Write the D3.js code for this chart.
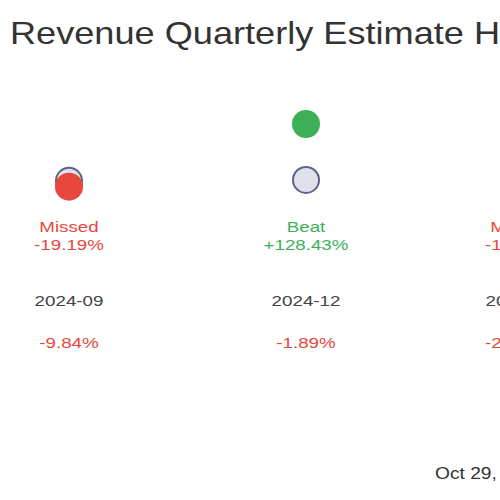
<!DOCTYPE html>
<html><head><meta charset="utf-8">
<script src="https://cdn.jsdelivr.net/npm/d3@7"></script>
<style>body{margin:0;overflow:hidden;background:#fff}</style>
</head><body>
<script>
const quarters = ["2024-09", "2024-12", "2025-03"];
const estimates = [98, 100, 102];
const actuals = [79.19, 228.43, 85];
const growth = ["-9.84%", "-1.89%", "-20.50%"];

const red = "#e8473d", green = "#3daf57";
const svg = d3.select("body").append("svg").attr("width", 500).attr("height", 500);

const x = d3.scaleOrdinal().domain(quarters).range([69, 306, 520]);
const y = d3.scaleLinear().domain([0, 228.43]).range([222, 126]);

svg.append("text").attr("transform", "translate(10,44) scale(1.13,1)")
    .attr("font-family", "Liberation Sans, Arial").attr("font-size", 32).attr("fill", "#333")
    .text("Revenue Quarterly Estimate History");

const g = svg.selectAll("g.q").data(quarters).join("g").attr("class", "q");

//estimate circles
g.append("circle").attr("cx", d => x(d)).attr("cy", (d, i) => y(estimates[i]))
    .attr("r", 13).attr("fill", "#dfe2ea").attr("stroke", "#5c6486").attr("stroke-width", 2);

//actual circles
g.append("circle").attr("cx", d => x(d)).attr("cy", (d, i) => y(actuals[i]) - 2)
    .attr("r", 14).attr("fill", (d, i) => actuals[i] >= estimates[i] ? green : red);

const surprise = i => (actuals[i] - estimates[i]) / estimates[i] * 100;
const col = i => surprise(i) >= 0 ? green : red;
const txt = (yy, f, c) => g.append("text")
    .attr("transform", d => `translate(${x(d)},${yy}) scale(1.25,1)`)
    .attr("text-anchor", "middle").attr("font-family", "Liberation Sans, Arial")
    .attr("font-size", 15).attr("fill", c).text(f);

txt(232, (d, i) => surprise(i) >= 0 ? "Beat" : "Missed", (d, i) => col(i));
txt(250, (d, i) => (surprise(i) >= 0 ? "+" : "") + surprise(i).toFixed(2) + "%", (d, i) => col(i));
txt(306, d => d, "#444");
txt(348, (d, i) => growth[i], (d, i) => growth[i].startsWith("-") ? red : green);

svg.append("text").attr("transform", "translate(435,479) scale(1.2,1)")
    .attr("font-family", "Liberation Sans, Arial").attr("font-size", 16).attr("fill", "#333")
    .text("Oct 29, 2025");
</script>
</body></html>
